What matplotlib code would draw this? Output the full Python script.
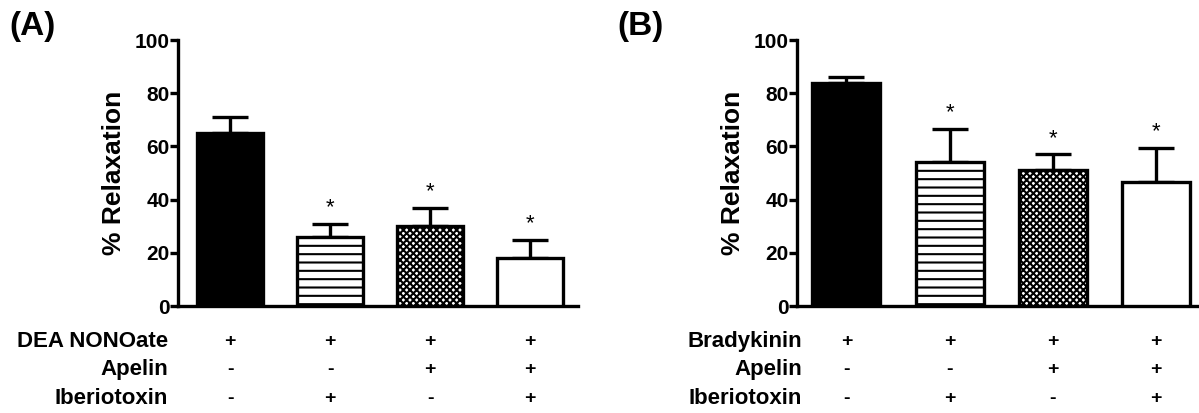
import numpy as np
import matplotlib
matplotlib.use('Agg')
import matplotlib.pyplot as plt
from matplotlib.transforms import offset_copy

plt.rcParams['font.family'] = ['Liberation Sans', 'DejaVu Sans']
plt.rcParams['font.weight'] = 'bold'
plt.rcParams['hatch.linewidth'] = 1.5

# %% data
groups = [0, 1, 2, 3]
relax_a = [65, 26, 30, 18]
sem_a = [6, 5, 7, 7]
star_a = [False, True, True, True]
rows_a = ['DEA NONOate', 'Apelin', 'Iberiotoxin']
signs_a = [['+', '+', '+', '+'],
           ['-', '-', '+', '+'],
           ['-', '+', '-', '+']]

relax_b = [84, 54, 51, 46.5]
sem_b = [2, 12.5, 6, 13]
star_b = [False, True, True, True]
rows_b = ['Bradykinin', 'Apelin', 'Iberiotoxin']
signs_b = [['+', '+', '+', '+'],
           ['-', '-', '+', '+'],
           ['-', '+', '-', '+']]

yticks = [0, 20, 40, 60, 80, 100]

FACES = ['black', 'white', 'white', 'white']
HATCHES = [None, '--', 'xxxxx', None]
LW = 2.4


def panel(fig, rect, xlim, vals, errs, stars, rows, signs, letter, letter_x, name_dx):
    ax = fig.add_axes(rect)
    ax.bar(groups, vals, width=0.66, color=FACES, edgecolor='black',
           linewidth=LW, zorder=3)
    for p, h in zip(ax.patches, HATCHES):
        if h:
            p.set_hatch(h)
    ax.errorbar(groups, vals, yerr=[np.zeros(4), errs], fmt='none',
                ecolor='black', elinewidth=LW, capsize=13, capthick=LW, zorder=2)
    for x, v, e, s in zip(groups, vals, errs, stars):
        if s:
            ax.text(x, v + e + 6, '*', ha='center', va='center', fontsize=16,
                    fontweight='normal')
    ax.set_xlim(xlim)
    ax.set_ylim(0, 100)
    ax.set_yticks(yticks)
    ax.set_xticks([])
    ax.spines['top'].set_visible(False)
    ax.spines['right'].set_visible(False)
    ax.spines['left'].set_linewidth(LW)
    ax.spines['bottom'].set_linewidth(LW)
    ax.tick_params(axis='y', length=6, width=LW, labelsize=15, pad=0)
    ax.set_ylabel('% Relaxation', fontsize=19, fontweight='bold', labelpad=6)
    # treatment table under the bars
    row_y = [-0.135, -0.24, -0.346]
    name_tr = offset_copy(ax.transAxes, fig=fig, x=name_dx, y=0, units='dots')
    for ry, name, sg in zip(row_y, rows, signs):
        ax.text(0, ry, name, transform=name_tr,
                ha='right', va='center', fontsize=16, clip_on=False)
        for x, s in zip(groups, sg):
            ax.text(x, ry, s, transform=ax.get_xaxis_transform(),
                    ha='center', va='center', fontsize=14, clip_on=False)
    fig.text(letter_x, 0.935, letter, fontsize=24, fontweight='bold',
             ha='left', va='center')
    return ax


def run():
    fig = plt.figure(figsize=(11.99, 4.13), dpi=100)
    bottom = 1 - 306 / 413
    height = (306 - 40) / 413
    panel(fig, [178 / 1199, bottom, 400 / 1199, height], (-0.52, 3.48),
          relax_a, sem_a, star_a, rows_a, signs_a, '(A)', 0.008, -10)
    panel(fig, [797 / 1199, bottom, 402 / 1199, height], (-0.48, 3.42),
          relax_b, sem_b, star_b, rows_b, signs_b, '(B)', 0.515, 5)
    fig.savefig('out.png', dpi=100)
    plt.close('all')


if __name__ == '__main__':
    run()
